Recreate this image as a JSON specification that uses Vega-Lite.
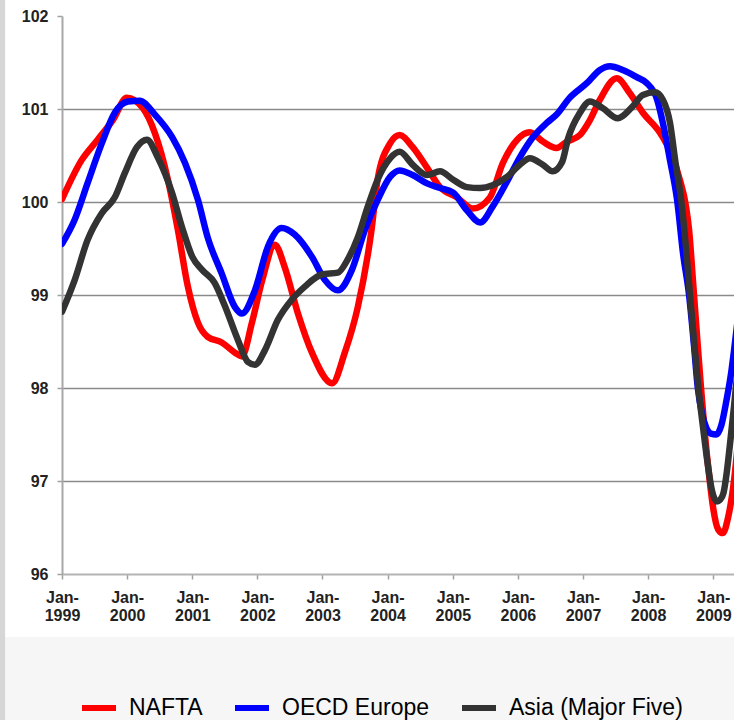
{
  "$schema": "https://vega.github.io/schema/vega-lite/v6.json",
  "width": 672,
  "height": 558,
  "autosize": {"type": "none"},
  "padding": {"left": 62, "top": 16, "right": 0, "bottom": 146},
  "background": "white",
  "config": {
    "view": {"stroke": null},
    "axis": {"labelFont": "Liberation Sans", "titleFont": "Liberation Sans"},
    "legend": {"labelFont": "Liberation Sans"}
  },
  "datasets": {
    "series": [
      {"series": "NAFTA", "date": "1999/01/01", "value": 100.03},
      {"series": "NAFTA", "date": "1999/04/21", "value": 100.45},
      {"series": "NAFTA", "date": "1999/07/20", "value": 100.67},
      {"series": "NAFTA", "date": "1999/10/13", "value": 100.88},
      {"series": "NAFTA", "date": "1999/12/31", "value": 101.12},
      {"series": "NAFTA", "date": "2000/03/29", "value": 101.01},
      {"series": "NAFTA", "date": "2000/06/05", "value": 100.74},
      {"series": "NAFTA", "date": "2000/08/17", "value": 100.24},
      {"series": "NAFTA", "date": "2000/10/12", "value": 99.70},
      {"series": "NAFTA", "date": "2000/12/07", "value": 99.09},
      {"series": "NAFTA", "date": "2001/02/02", "value": 98.70},
      {"series": "NAFTA", "date": "2001/03/28", "value": 98.55},
      {"series": "NAFTA", "date": "2001/06/15", "value": 98.49},
      {"series": "NAFTA", "date": "2001/08/28", "value": 98.38},
      {"series": "NAFTA", "date": "2001/10/06", "value": 98.34},
      {"series": "NAFTA", "date": "2001/12/01", "value": 98.70},
      {"series": "NAFTA", "date": "2002/01/28", "value": 99.16},
      {"series": "NAFTA", "date": "2002/04/09", "value": 99.54},
      {"series": "NAFTA", "date": "2002/06/03", "value": 99.30},
      {"series": "NAFTA", "date": "2002/08/15", "value": 98.81},
      {"series": "NAFTA", "date": "2002/11/03", "value": 98.38},
      {"series": "NAFTA", "date": "2003/02/24", "value": 98.05},
      {"series": "NAFTA", "date": "2003/05/06", "value": 98.38},
      {"series": "NAFTA", "date": "2003/07/18", "value": 98.87},
      {"series": "NAFTA", "date": "2003/10/03", "value": 99.70},
      {"series": "NAFTA", "date": "2003/11/06", "value": 100.24},
      {"series": "NAFTA", "date": "2004/01/15", "value": 100.63},
      {"series": "NAFTA", "date": "2004/03/09", "value": 100.72},
      {"series": "NAFTA", "date": "2004/05/21", "value": 100.59},
      {"series": "NAFTA", "date": "2004/08/09", "value": 100.37},
      {"series": "NAFTA", "date": "2004/10/21", "value": 100.16},
      {"series": "NAFTA", "date": "2005/01/24", "value": 100.05},
      {"series": "NAFTA", "date": "2005/04/24", "value": 99.93},
      {"series": "NAFTA", "date": "2005/07/28", "value": 100.05},
      {"series": "NAFTA", "date": "2005/10/09", "value": 100.42},
      {"series": "NAFTA", "date": "2005/12/28", "value": 100.67},
      {"series": "NAFTA", "date": "2006/03/09", "value": 100.75},
      {"series": "NAFTA", "date": "2006/05/21", "value": 100.65},
      {"series": "NAFTA", "date": "2006/08/06", "value": 100.58},
      {"series": "NAFTA", "date": "2006/10/03", "value": 100.65},
      {"series": "NAFTA", "date": "2006/12/15", "value": 100.72},
      {"series": "NAFTA", "date": "2007/02/09", "value": 100.88},
      {"series": "NAFTA", "date": "2007/04/06", "value": 101.10},
      {"series": "NAFTA", "date": "2007/07/09", "value": 101.33},
      {"series": "NAFTA", "date": "2007/09/21", "value": 101.17},
      {"series": "NAFTA", "date": "2007/12/03", "value": 100.96},
      {"series": "NAFTA", "date": "2008/03/06", "value": 100.75},
      {"series": "NAFTA", "date": "2008/04/15", "value": 100.62},
      {"series": "NAFTA", "date": "2008/05/18", "value": 100.48},
      {"series": "NAFTA", "date": "2008/06/27", "value": 100.24},
      {"series": "NAFTA", "date": "2008/08/01", "value": 99.95},
      {"series": "NAFTA", "date": "2008/08/18", "value": 99.70},
      {"series": "NAFTA", "date": "2008/09/09", "value": 99.15},
      {"series": "NAFTA", "date": "2008/10/02", "value": 98.55},
      {"series": "NAFTA", "date": "2008/10/24", "value": 98.00},
      {"series": "NAFTA", "date": "2008/11/15", "value": 97.50},
      {"series": "NAFTA", "date": "2008/12/09", "value": 97.05},
      {"series": "NAFTA", "date": "2009/01/01", "value": 96.70},
      {"series": "NAFTA", "date": "2009/01/28", "value": 96.48},
      {"series": "NAFTA", "date": "2009/02/24", "value": 96.44},
      {"series": "NAFTA", "date": "2009/03/24", "value": 96.60},
      {"series": "NAFTA", "date": "2009/04/27", "value": 97.00},
      {"series": "NAFTA", "date": "2009/05/28", "value": 97.60},

      {"series": "OECD Europe", "date": "1999/01/01", "value": 99.55},
      {"series": "OECD Europe", "date": "1999/03/13", "value": 99.81},
      {"series": "OECD Europe", "date": "1999/05/24", "value": 100.20},
      {"series": "OECD Europe", "date": "1999/08/12", "value": 100.63},
      {"series": "OECD Europe", "date": "1999/10/24", "value": 100.96},
      {"series": "OECD Europe", "date": "2000/01/06", "value": 101.08},
      {"series": "OECD Europe", "date": "2000/03/12", "value": 101.09},
      {"series": "OECD Europe", "date": "2000/06/05", "value": 100.94},
      {"series": "OECD Europe", "date": "2000/09/09", "value": 100.70},
      {"series": "OECD Europe", "date": "2000/11/21", "value": 100.42},
      {"series": "OECD Europe", "date": "2001/02/02", "value": 100.02},
      {"series": "OECD Europe", "date": "2001/03/28", "value": 99.62},
      {"series": "OECD Europe", "date": "2001/06/15", "value": 99.23},
      {"series": "OECD Europe", "date": "2001/08/28", "value": 98.87},
      {"series": "OECD Europe", "date": "2001/10/06", "value": 98.80},
      {"series": "OECD Europe", "date": "2001/12/18", "value": 99.05},
      {"series": "OECD Europe", "date": "2002/03/01", "value": 99.52},
      {"series": "OECD Europe", "date": "2002/05/17", "value": 99.72},
      {"series": "OECD Europe", "date": "2002/07/29", "value": 99.65},
      {"series": "OECD Europe", "date": "2002/11/03", "value": 99.41},
      {"series": "OECD Europe", "date": "2003/01/15", "value": 99.16},
      {"series": "OECD Europe", "date": "2003/03/28", "value": 99.05},
      {"series": "OECD Europe", "date": "2003/06/15", "value": 99.27},
      {"series": "OECD Europe", "date": "2003/08/27", "value": 99.70},
      {"series": "OECD Europe", "date": "2003/11/06", "value": 100.02},
      {"series": "OECD Europe", "date": "2004/01/15", "value": 100.27},
      {"series": "OECD Europe", "date": "2004/03/09", "value": 100.34},
      {"series": "OECD Europe", "date": "2004/05/21", "value": 100.29},
      {"series": "OECD Europe", "date": "2004/08/09", "value": 100.20},
      {"series": "OECD Europe", "date": "2004/10/21", "value": 100.15},
      {"series": "OECD Europe", "date": "2005/01/03", "value": 100.10},
      {"series": "OECD Europe", "date": "2005/03/21", "value": 99.91},
      {"series": "OECD Europe", "date": "2005/06/03", "value": 99.78},
      {"series": "OECD Europe", "date": "2005/08/12", "value": 99.95},
      {"series": "OECD Europe", "date": "2005/11/01", "value": 100.22},
      {"series": "OECD Europe", "date": "2006/01/12", "value": 100.48},
      {"series": "OECD Europe", "date": "2006/03/24", "value": 100.69},
      {"series": "OECD Europe", "date": "2006/06/12", "value": 100.85},
      {"series": "OECD Europe", "date": "2006/08/06", "value": 100.94},
      {"series": "OECD Europe", "date": "2006/10/18", "value": 101.12},
      {"series": "OECD Europe", "date": "2007/01/24", "value": 101.28},
      {"series": "OECD Europe", "date": "2007/04/06", "value": 101.42},
      {"series": "OECD Europe", "date": "2007/06/01", "value": 101.46},
      {"series": "OECD Europe", "date": "2007/08/12", "value": 101.42},
      {"series": "OECD Europe", "date": "2007/11/01", "value": 101.34},
      {"series": "OECD Europe", "date": "2007/12/24", "value": 101.28},
      {"series": "OECD Europe", "date": "2008/02/21", "value": 101.10},
      {"series": "OECD Europe", "date": "2008/03/24", "value": 100.85},
      {"series": "OECD Europe", "date": "2008/05/03", "value": 100.45},
      {"series": "OECD Europe", "date": "2008/06/12", "value": 100.02},
      {"series": "OECD Europe", "date": "2008/07/15", "value": 99.45},
      {"series": "OECD Europe", "date": "2008/08/18", "value": 99.00},
      {"series": "OECD Europe", "date": "2008/09/15", "value": 98.45},
      {"series": "OECD Europe", "date": "2008/10/06", "value": 98.00},
      {"series": "OECD Europe", "date": "2008/10/30", "value": 97.72},
      {"series": "OECD Europe", "date": "2008/11/21", "value": 97.58},
      {"series": "OECD Europe", "date": "2008/12/18", "value": 97.51},
      {"series": "OECD Europe", "date": "2009/01/18", "value": 97.50},
      {"series": "OECD Europe", "date": "2009/02/15", "value": 97.60},
      {"series": "OECD Europe", "date": "2009/03/16", "value": 97.87},
      {"series": "OECD Europe", "date": "2009/04/13", "value": 98.19},
      {"series": "OECD Europe", "date": "2009/04/27", "value": 98.40},
      {"series": "OECD Europe", "date": "2009/05/28", "value": 98.90},

      {"series": "Asia (Major Five)", "date": "1999/01/01", "value": 98.82},
      {"series": "Asia (Major Five)", "date": "1999/03/13", "value": 99.16},
      {"series": "Asia (Major Five)", "date": "1999/05/24", "value": 99.59},
      {"series": "Asia (Major Five)", "date": "1999/08/12", "value": 99.88},
      {"series": "Asia (Major Five)", "date": "1999/10/24", "value": 100.05},
      {"series": "Asia (Major Five)", "date": "1999/12/19", "value": 100.31},
      {"series": "Asia (Major Five)", "date": "2000/02/25", "value": 100.59},
      {"series": "Asia (Major Five)", "date": "2000/04/21", "value": 100.67},
      {"series": "Asia (Major Five)", "date": "2000/06/21", "value": 100.48},
      {"series": "Asia (Major Five)", "date": "2000/09/09", "value": 100.10},
      {"series": "Asia (Major Five)", "date": "2000/11/04", "value": 99.73},
      {"series": "Asia (Major Five)", "date": "2001/01/01", "value": 99.41},
      {"series": "Asia (Major Five)", "date": "2001/02/25", "value": 99.27},
      {"series": "Asia (Major Five)", "date": "2001/05/06", "value": 99.13},
      {"series": "Asia (Major Five)", "date": "2001/07/01", "value": 98.89},
      {"series": "Asia (Major Five)", "date": "2001/09/13", "value": 98.52},
      {"series": "Asia (Major Five)", "date": "2001/11/09", "value": 98.28},
      {"series": "Asia (Major Five)", "date": "2001/12/18", "value": 98.25},
      {"series": "Asia (Major Five)", "date": "2002/02/13", "value": 98.41},
      {"series": "Asia (Major Five)", "date": "2002/04/25", "value": 98.73},
      {"series": "Asia (Major Five)", "date": "2002/07/13", "value": 98.95},
      {"series": "Asia (Major Five)", "date": "2002/09/24", "value": 99.09},
      {"series": "Asia (Major Five)", "date": "2002/12/28", "value": 99.22},
      {"series": "Asia (Major Five)", "date": "2003/03/28", "value": 99.24},
      {"series": "Asia (Major Five)", "date": "2003/05/22", "value": 99.38},
      {"series": "Asia (Major Five)", "date": "2003/07/18", "value": 99.62},
      {"series": "Asia (Major Five)", "date": "2003/09/12", "value": 99.95},
      {"series": "Asia (Major Five)", "date": "2003/11/06", "value": 100.24},
      {"series": "Asia (Major Five)", "date": "2004/01/15", "value": 100.47},
      {"series": "Asia (Major Five)", "date": "2004/03/09", "value": 100.54},
      {"series": "Asia (Major Five)", "date": "2004/05/21", "value": 100.40},
      {"series": "Asia (Major Five)", "date": "2004/08/09", "value": 100.29},
      {"series": "Asia (Major Five)", "date": "2004/10/21", "value": 100.33},
      {"series": "Asia (Major Five)", "date": "2005/01/03", "value": 100.24},
      {"series": "Asia (Major Five)", "date": "2005/03/21", "value": 100.16},
      {"series": "Asia (Major Five)", "date": "2005/06/03", "value": 100.15},
      {"series": "Asia (Major Five)", "date": "2005/08/12", "value": 100.18},
      {"series": "Asia (Major Five)", "date": "2005/11/01", "value": 100.27},
      {"series": "Asia (Major Five)", "date": "2006/01/12", "value": 100.40},
      {"series": "Asia (Major Five)", "date": "2006/03/09", "value": 100.47},
      {"series": "Asia (Major Five)", "date": "2006/05/21", "value": 100.40},
      {"series": "Asia (Major Five)", "date": "2006/07/15", "value": 100.33},
      {"series": "Asia (Major Five)", "date": "2006/09/06", "value": 100.43},
      {"series": "Asia (Major Five)", "date": "2006/10/09", "value": 100.68},
      {"series": "Asia (Major Five)", "date": "2006/12/15", "value": 100.96},
      {"series": "Asia (Major Five)", "date": "2007/02/09", "value": 101.08},
      {"series": "Asia (Major Five)", "date": "2007/04/21", "value": 101.01},
      {"series": "Asia (Major Five)", "date": "2007/07/15", "value": 100.90},
      {"series": "Asia (Major Five)", "date": "2007/10/03", "value": 101.02},
      {"series": "Asia (Major Five)", "date": "2007/12/03", "value": 101.15},
      {"series": "Asia (Major Five)", "date": "2008/02/09", "value": 101.18},
      {"series": "Asia (Major Five)", "date": "2008/03/24", "value": 101.10},
      {"series": "Asia (Major Five)", "date": "2008/05/03", "value": 100.85},
      {"series": "Asia (Major Five)", "date": "2008/06/01", "value": 100.45},
      {"series": "Asia (Major Five)", "date": "2008/07/06", "value": 100.00},
      {"series": "Asia (Major Five)", "date": "2008/08/01", "value": 99.50},
      {"series": "Asia (Major Five)", "date": "2008/08/24", "value": 98.98},
      {"series": "Asia (Major Five)", "date": "2008/09/15", "value": 98.50},
      {"series": "Asia (Major Five)", "date": "2008/10/09", "value": 98.01},
      {"series": "Asia (Major Five)", "date": "2008/11/06", "value": 97.55},
      {"series": "Asia (Major Five)", "date": "2008/12/03", "value": 97.15},
      {"series": "Asia (Major Five)", "date": "2008/12/24", "value": 96.90},
      {"series": "Asia (Major Five)", "date": "2009/01/21", "value": 96.78},
      {"series": "Asia (Major Five)", "date": "2009/02/09", "value": 96.80},
      {"series": "Asia (Major Five)", "date": "2009/02/27", "value": 96.87},
      {"series": "Asia (Major Five)", "date": "2009/03/18", "value": 97.10},
      {"series": "Asia (Major Five)", "date": "2009/04/03", "value": 97.37},
      {"series": "Asia (Major Five)", "date": "2009/04/27", "value": 97.80},
      {"series": "Asia (Major Five)", "date": "2009/05/28", "value": 98.40}
    ]
  },
  "layer": [
    {
      "data": {"values": [{"band": "legend area"}]},
      "mark": {"type": "rect", "color": "#f6f6f6", "clip": false},
      "encoding": {
        "x": {"datum": {"year": 1997, "month": 1, "date": 1}, "type": "temporal",
              "scale": {"domain": [{"year": 1999, "month": 1, "date": 1}, {"year": 2009, "month": 4, "date": 27}]}},
        "x2": {"datum": {"year": 2010, "month": 12, "date": 31}},
        "y": {"datum": 95.323, "type": "quantitative", "scale": {"domain": [96, 102]}},
        "y2": {"datum": 93.5}
      }
    },
    {
      "data": {"values": [{"band": "left edge"}]},
      "mark": {"type": "rect", "color": "#d6d6d6", "clip": false},
      "encoding": {
        "x": {"datum": {"year": 1997, "month": 1, "date": 1}, "type": "temporal",
              "scale": {"domain": [{"year": 1999, "month": 1, "date": 1}, {"year": 2009, "month": 4, "date": 27}]}},
        "x2": {"datum": {"year": 1998, "month": 2, "date": 16}},
        "y": {"datum": 103, "type": "quantitative", "scale": {"domain": [96, 102]}},
        "y2": {"datum": 93}
      }
    },
    {
      "data": {"name": "series"},
      "transform": [{"filter": "datum.series === 'NAFTA'"}],
      "mark": {"type": "line", "strokeWidth": 6.5, "interpolate": "monotone", "strokeCap": "round", "strokeJoin": "round", "clip": true},
      "encoding": {
        "x": {"field": "date", "type": "temporal",
              "scale": {"domain": [{"year": 1999, "month": 1, "date": 1}, {"year": 2009, "month": 4, "date": 27}]},
              "axis": {"title": null, "grid": false, "tickCount": {"interval": "year", "step": 1},
                       "labelExpr": "['Jan-', timeFormat(datum.value, '%Y')]",
                       "labelFontWeight": "bold", "labelFontSize": 16, "labelColor": "#222222",
                       "labelPadding": 10, "labelLineHeight": 18, "labelFlush": false, "labelOverlap": false,
                       "domainColor": "#b4b4b4", "domainWidth": 2, "tickColor": "#a0a0a0", "tickWidth": 1.5, "tickSize": 5}},
        "y": {"field": "value", "type": "quantitative",
              "scale": {"domain": [96, 102]},
              "axis": {"title": null, "values": [96, 97, 98, 99, 100, 101, 102], "format": "d", "grid": true,
                       "gridColor": "#8a8a8a", "gridWidth": 1.5,
                       "gridOpacity": {"condition": {"test": "datum.value == 102 || datum.value == 96", "value": 0}, "value": 1},
                       "labelFontWeight": "bold", "labelFontSize": 16, "labelColor": "#222222", "labelPadding": 9,
                       "domainColor": "#a8a8a8", "domainWidth": 2, "tickColor": "#a0a0a0", "tickWidth": 1.5, "tickSize": 5}},
        "color": {"field": "series", "type": "nominal",
                  "scale": {"domain": ["NAFTA", "OECD Europe", "Asia (Major Five)"], "range": ["#ff0000", "#0000ff", "#333333"]},
                  "legend": {"title": null, "orient": "none", "legendX": 17, "legendY": 672, "direction": "horizontal",
                             "symbolType": "stroke", "symbolSize": 1156, "symbolStrokeWidth": 6,
                             "labelFontSize": 23, "labelColor": "#000000", "labelOffset": 10, "labelLimit": 400,
                             "columnPadding": 20, "padding": 0}}
      }
    },
    {
      "data": {"name": "series"},
      "transform": [{"filter": "datum.series === 'OECD Europe'"}],
      "mark": {"type": "line", "strokeWidth": 6.5, "interpolate": "monotone", "strokeCap": "round", "strokeJoin": "round", "clip": true},
      "encoding": {
        "x": {"field": "date", "type": "temporal", "scale": {"domain": [{"year": 1999, "month": 1, "date": 1}, {"year": 2009, "month": 4, "date": 27}]}},
        "y": {"field": "value", "type": "quantitative", "scale": {"domain": [96, 102]}},
        "color": {"field": "series", "type": "nominal"}
      }
    },
    {
      "data": {"name": "series"},
      "transform": [{"filter": "datum.series === 'Asia (Major Five)'"}],
      "mark": {"type": "line", "strokeWidth": 6.5, "interpolate": "monotone", "strokeCap": "round", "strokeJoin": "round", "clip": true},
      "encoding": {
        "x": {"field": "date", "type": "temporal", "scale": {"domain": [{"year": 1999, "month": 1, "date": 1}, {"year": 2009, "month": 4, "date": 27}]}},
        "y": {"field": "value", "type": "quantitative", "scale": {"domain": [96, 102]}},
        "color": {"field": "series", "type": "nominal"}
      }
    }
  ]
}
